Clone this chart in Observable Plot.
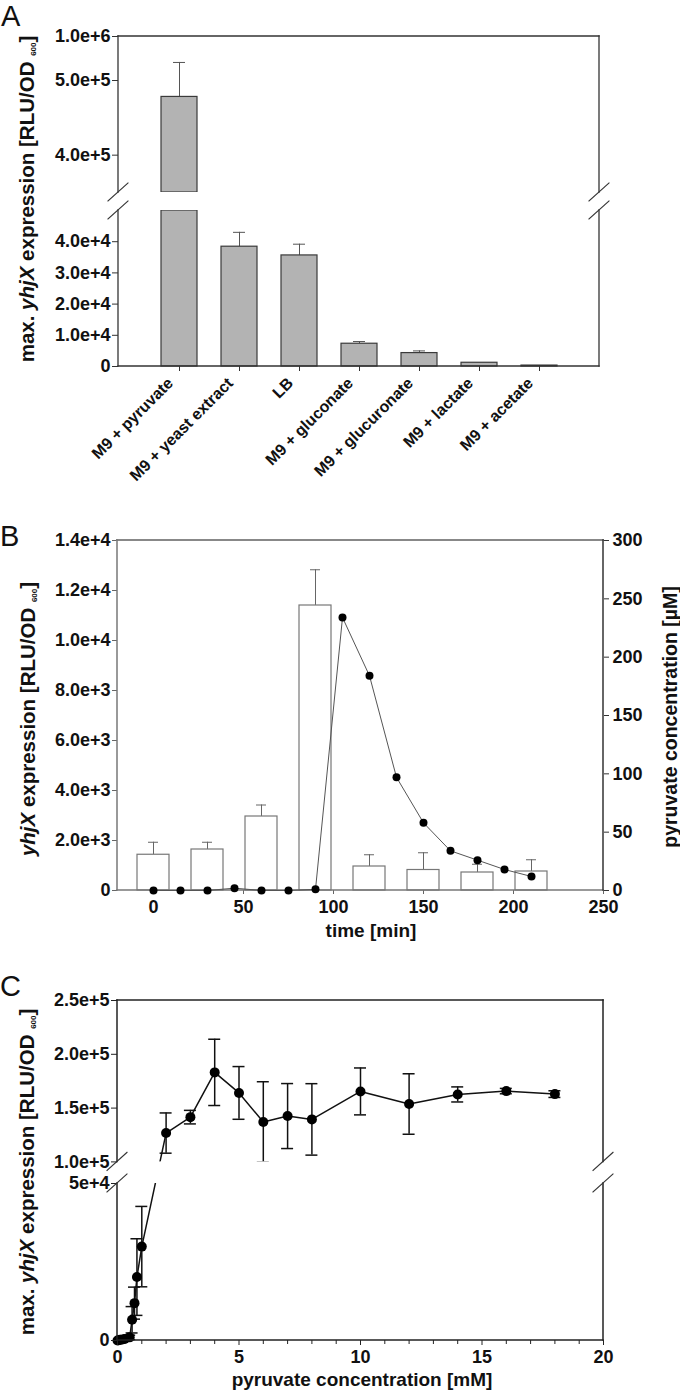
<!DOCTYPE html>
<html><head><meta charset="utf-8">
<script src="https://cdn.jsdelivr.net/npm/d3@7"></script>
<script src="https://cdn.jsdelivr.net/npm/@observablehq/plot@0.6"></script>
<style>
body{margin:0;background:#fff;}
#wrap{position:relative;width:680px;height:1392px;overflow:hidden;background:#fff;}
#wrap svg{position:absolute;left:0;}
</style></head><body><div id="wrap"></div>
<script>
// ---------------- Panel A data ----------------
const mediaA = ["M9 + pyruvate","M9 + yeast extract","LB","M9 + gluconate","M9 + glucuronate","M9 + lactate","M9 + acetate"];
const maxExprA = [478000, 38400, 35600, 7300, 4300, 1200, 300];
const errTopA  = [705000, 43000, 39200, 8000, 5000, 1200, 300];
const ticksA = [0, 10000, 20000, 30000, 40000, 400000, 500000, 1000000];
const tickLabelsA = ["0","1.0e+4","2.0e+4","3.0e+4","4.0e+4","4.0e+5","5.0e+5","1.0e+6"];
const segmentsA = [[0, 50000], [350000, 1000000]];

// ---------------- Panel B data ----------------
const timeBarsB = [0, 30, 60, 90, 120, 150, 180, 210];
const exprB     = [1430, 1640, 2960, 11400, 960, 820, 720, 760];
const errTopB   = [1930, 1930, 3420, 12830, 1430, 1510, 1050, 1230];
const timePyrB  = [0, 15, 30, 45, 60, 75, 90, 105, 120, 135, 150, 165, 180, 195, 210];
const pyruvateB = [0, 0, 0, 2, 0, 0, 1, 234, 184, 97, 58, 34, 26, 18, 12];
const ticksBx = [0, 50, 100, 150, 200, 250];
const ticksBy = [0, 2000, 4000, 6000, 8000, 10000, 12000, 14000];
const tickLabelsBy = ["0","2.0e+3","4.0e+3","6.0e+3","8.0e+3","1.0e+4","1.2e+4","1.4e+4"];
const ticksBr = [0, 50, 100, 150, 200, 250, 300];

// ---------------- Panel C data ----------------
const concC = [0, 0.05, 0.1, 0.2, 0.3, 0.5, 0.6, 0.7, 0.8, 1, 2, 3, 4, 5, 6, 7, 8, 10, 12, 14, 16, 18];
const exprC = [0, 100, 200, 300, 500, 1000, 6600, 11900, 20200, 29900, 126800, 141600, 183200, 164100, 137000, 142600, 139500, 165500, 153800, 162700, 165800, 163000];
const errC  = [0, 0, 0, 0, 200, 700, 4200, 5100, 12200, 12800, 18700, 6300, 30800, 24500, 37500, 30200, 33200, 21800, 28100, 7000, 2500, 3100];
const ticksCx = [0, 5, 10, 15, 20];
const minorTicksCx = [1,2,3,4,6,7,8,9,11,12,13,14,16,17,18,19];
const ticksCy = [0, 50000, 100000, 150000, 200000, 250000];
const tickLabelsCy = ["0","5e+4","1.0e+5","1.5e+5","2.0e+5","2.5e+5"];
const segmentsC = [[0, 50000], [100000, 250000]];

// ---------------- helpers ----------------
const FONT = "'Liberation Sans', Arial, Helvetica, sans-serif";
const wrap = document.getElementById("wrap");
function style(extra) {
  return Object.assign({fontFamily: FONT, fontSize: "18px", fontWeight: "bold", color: "#111", overflow: "visible", background: "transparent"}, extra || {});
}
function place(svg, top) { svg.style.top = top + "px"; wrap.appendChild(svg); return svg; }

// broken-axis transform: piecewise linear map from data units to a continuous axis-length unit
const brokenA = d3.scaleLinear().domain([0, 50000, 350000, 500000, 1000000]).range([0, 156, 174, 286, 330]);
const brokenC = d3.scaleLinear().domain([0, 50000, 100000, 250000]).range([0, 157, 178.6, 340]);

function decorate(plot, o) {
  const ys = plot.scale("y");
  const tf = o.tf || (v => v);
  const y = v => ys.apply(tf(v));
  const svg = d3.select(plot);
  const segs = o.segs;
  const ymax = segs[segs.length - 1][1];
  for (let i = 0; i < segs.length - 1; i++) {
    const ya = y(segs[i][1]), yb = y(segs[i + 1][0]);
    svg.append("rect").attr("x", o.left + 1).attr("width", o.right - o.left - 2)
      .attr("y", Math.min(ya, yb)).attr("height", Math.abs(ya - yb)).attr("fill", "white");
  }
  const g = svg.append("g").attr("fill", "none").attr("stroke-linecap", "square");
  const line = (x1, y1, x2, y2, s, w) => g.append("line").attr("x1", x1).attr("y1", y1).attr("x2", x2).attr("y2", y2).attr("stroke", s).attr("stroke-width", w);
  line(o.left, y(ymax), o.right, y(ymax), o.topStroke || o.stroke, o.topWidth || o.width);
  line(o.left, y(0), o.right, y(0), o.stroke, o.width);
  for (const [a, b] of segs) {
    line(o.left, y(a), o.left, y(b), o.stroke, o.width);
    line(o.right, y(a), o.right, y(b), o.rightStroke || o.stroke, o.width);
  }
  for (let i = 0; i < segs.length - 1; i++) {
    for (const v of [segs[i][1], segs[i + 1][0]]) {
      const yy = y(v);
      for (const xx of [o.left, o.right]) {
        g.append("line").attr("x1", xx - 10).attr("y1", yy + 9).attr("x2", xx + 10).attr("y2", yy - 9)
          .attr("stroke", "#333").attr("stroke-width", 1.1);
      }
    }
  }
}

function addText(svg, x, y, parts, opts) {
  opts = opts || {};
  const t = d3.select(svg).append("text")
    .attr("transform", `translate(${x},${y})` + (opts.rotate ? ` rotate(${opts.rotate})` : ""))
    .attr("text-anchor", opts.anchor || "middle")
    .attr("font-family", FONT).attr("font-size", opts.size || 18)
    .attr("font-weight", opts.weight || "bold").attr("fill", "#111").attr("stroke", "none");
  for (const p of parts) {
    const ts = t.append("tspan").text(p.t);
    if (p.i) ts.attr("font-style", "italic");
    if (p.sub) ts.attr("font-size", 8).attr("dy", 2);
    if (p.back) ts.attr("dy", -2);
  }
  return t;
}
const yTitleParts = (prefix) => [
  {t: prefix}, {t: "yhjX", i: true}, {t: " expression [RLU/OD "}, {t: "600", sub: true}, {t: "]", back: true}
];

// ---------------- Panel A ----------------
const barsA = mediaA.map((m, i) => ({m, v: maxExprA[i], hi: errTopA[i]}));
const piecesA = segmentsA.flatMap(([a, b]) =>
  barsA.filter(d => d.v > a).map(d => ({m: d.m, y1: a, y2: Math.min(d.v, b)})));
const errA = barsA.filter(d => d.hi > d.v);
// axis ticks are given in the (already broken) axis units
const labA = new Map(ticksA.map((t, i) => [brokenA(t), tickLabelsA[i]]));

const plotA = Plot.plot({
  width: 680, height: 500,
  marginLeft: 118, marginRight: 81, marginTop: 36, marginBottom: 134,
  style: style(),
  x: {domain: mediaA, paddingInner: 0.4, paddingOuter: 0.7, axis: null},
  y: {transform: brokenA, domain: [0, 330], axis: null},
  marks: [
    Plot.ruleX(errA, {x: "m", y1: "v", y2: "hi", stroke: "#555", strokeWidth: 1}),
    Plot.tickY(errA, {x: "m", y: "hi", stroke: "#555", strokeWidth: 1, insetLeft: 12, insetRight: 12}),
    Plot.barY(piecesA, {x: "m", y1: "y1", y2: "y2", fill: "#b3b3b3", stroke: "#3a3a3a", strokeWidth: 1.2}),
    Plot.axisY({ticks: [...labA.keys()], tickFormat: d => labA.get(d), tickSize: 6, tickPadding: 2, stroke: "#333", label: null}),
    Plot.axisX({tickSize: 5, tickFormat: () => "", stroke: "#333", label: null}),
    Plot.axisX({tickRotate: -45, tickSize: 0, tickPadding: 14, dx: -9, fontSize: 16, label: null})
  ]
});
place(plotA, 0);
decorate(plotA, {left: 118, right: 599, segs: segmentsA, tf: brokenA, stroke: "#333", width: 1.3});
addText(plotA, 1, 26, [{t: "A"}], {anchor: "start", size: 29, weight: "normal"});
addText(plotA, 34, 199, yTitleParts("max. "), {rotate: -90, size: 20.5});

// ---------------- Panel B ----------------
const barsB = timeBarsB.map((t, i) => ({t, v: exprB[i], hi: errTopB[i]}));
const pyrB = timePyrB.map((t, i) => ({t, v: pyruvateB[i]}));
const labBy = new Map(ticksBy.map((t, i) => [t, tickLabelsBy[i]]));
const commonB = {width: 680, height: 450, marginLeft: 117, marginRight: 77, marginTop: 40, marginBottom: 60};

const plotB1 = Plot.plot({
  ...commonB,
  style: style(),
  x: {domain: [-20, 250], axis: null},
  y: {domain: [0, 14000], axis: null},
  marks: [
    Plot.ruleX(barsB, {x: "t", y1: "v", y2: "hi", stroke: "#666", strokeWidth: 1}),
    Plot.ruleY(barsB, {y: "hi", x1: "t", x2: "t", insetLeft: -5, insetRight: -5, stroke: "#666", strokeWidth: 1}),
    Plot.rect(barsB, {x1: "t", x2: "t", y1: 0, y2: "v", insetLeft: -16, insetRight: -16, fill: "white", stroke: "#777", strokeWidth: 1.2}),
    Plot.axisY({ticks: ticksBy, tickFormat: d => labBy.get(d), tickSize: 5, tickPadding: 2, stroke: "#666", label: null}),
    Plot.axisX({ticks: ticksBx, tickSize: 4, tickPadding: 6, stroke: "#666", label: null})
  ]
});
place(plotB1, 500);
decorate(plotB1, {left: 117, right: 603, segs: [[0, 14000]], stroke: "#777", width: 1.5, topStroke: "#888", topWidth: 2, rightStroke: "#333"});
addText(plotB1, 0, 46, [{t: "B"}], {anchor: "start", size: 29, weight: "normal"});
addText(plotB1, 35, 219, yTitleParts(""), {rotate: -90, size: 20.5});
addText(plotB1, 371, 437, [{t: "time [min]"}], {size: 19});

const plotB2 = Plot.plot({
  ...commonB,
  style: style(),
  x: {domain: [-20, 250], axis: null},
  y: {domain: [0, 300], axis: null},
  marks: [
    Plot.line(pyrB, {x: "t", y: "v", stroke: "#555", strokeWidth: 1}),
    Plot.dot(pyrB, {x: "t", y: "v", r: 4, fill: "black"}),
    Plot.axisY({anchor: "right", ticks: ticksBr, tickSize: 5, tickPadding: 4, stroke: "#333", label: null})
  ]
});
place(plotB2, 500);
addText(plotB2, 677, 217, [{t: "pyruvate concentration [µM]"}], {rotate: -90, size: 19.5});

// ---------------- Panel C ----------------
const ptsC = concC.map((c, i) => ({c, v: exprC[i], e: errC[i]}));
const errBarsC = ptsC.filter(d => d.e > 0);
const labCy = new Map(ticksCy.map((t, i) => [brokenC(t), tickLabelsCy[i]]));

const plotC = Plot.plot({
  width: 680, height: 442, marginLeft: 117, marginRight: 77, marginTop: 50, marginBottom: 52,
  style: style(),
  x: {domain: [0, 20], axis: null},
  y: {transform: brokenC, domain: [0, 340], axis: null},
  marks: [
    Plot.ruleX(errBarsC, {x: "c", y1: d => d.v - d.e, y2: d => d.v + d.e, stroke: "#111", strokeWidth: 1.5}),
    Plot.ruleY(errBarsC, {y: d => d.v + d.e, x1: "c", x2: "c", insetLeft: -6, insetRight: -6, stroke: "#111", strokeWidth: 1.5}),
    Plot.ruleY(errBarsC, {y: d => d.v - d.e, x1: "c", x2: "c", insetLeft: -6, insetRight: -6, stroke: "#111", strokeWidth: 1.5}),
    Plot.line(ptsC, {x: "c", y: "v", stroke: "#111", strokeWidth: 1.5}),
    Plot.dot(ptsC, {x: "c", y: "v", r: 5, fill: "black"}),
    Plot.axisY({ticks: [...labCy.keys()], tickFormat: d => labCy.get(d), tickSize: 6, tickPadding: 2, stroke: "#222", label: null}),
    Plot.axisX({ticks: ticksCx, tickSize: 5, tickPadding: 5, stroke: "#222", label: null}),
    Plot.axisX({ticks: minorTicksCx, tickSize: 4, tickFormat: () => "", stroke: "#222", label: null})
  ]
});
place(plotC, 950);
decorate(plotC, {left: 117, right: 603, segs: segmentsC, tf: brokenC, stroke: "#222", width: 1.5});
addText(plotC, 0, 46, [{t: "C"}], {anchor: "start", size: 29, weight: "normal"});
addText(plotC, 34, 222, yTitleParts("max. "), {rotate: -90, size: 20.5});
addText(plotC, 362, 436, [{t: "pyruvate concentration [mM]"}], {size: 19});
</script></body></html>
